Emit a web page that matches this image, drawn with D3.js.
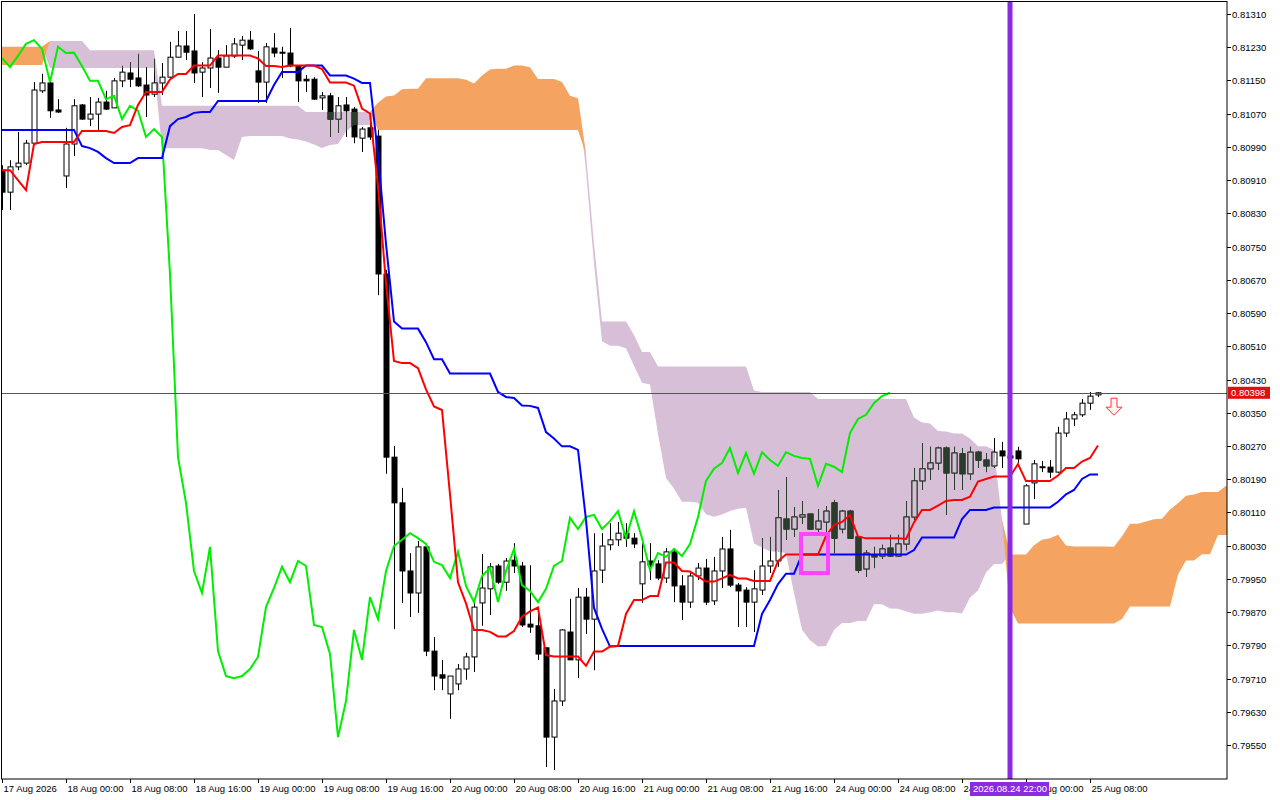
<!DOCTYPE html>
<html>
<head>
  <meta charset="utf-8">
  <title>Ichimoku chart</title>
  <style>
    body { margin: 0; background: #fff; }
    text { font-family: "Liberation Sans", "DejaVu Sans", sans-serif; }
  </style>
</head>
<body>
<script src="https://cdnjs.cloudflare.com/ajax/libs/d3/7.8.5/d3.min.js"></script>
<script>
// H1 bars, 17 Aug 2026 16:00 .. 25 Aug 2026 09:00 (prices in points, 1e-5)
var opens = [80934,80881,80942,80951,80999,81125,81144,81079,80920,80997,
  81091,81057,81069,81098,81084,81149,81168,81156,81139,81117,
  81144,81158,81206,81233,81221,81170,81180,81204,81182,81209,
  81235,81247,81173,81146,81228,81218,81216,81185,81153,81153,
  81108,81113,81057,81091,81081,81011,81036,81016,80684,80243,
  80133,79969,79916,80027,79776,79719,79673,79697,79733,79762,
  79892,79926,79981,79942,79995,79981,79841,79837,79784,79569,
  79656,79822,79755,79906,79853,79971,80032,80044,80060,80048,
  79938,79993,79986,79952,80015,79933,79894,79957,79976,79897,
  79969,80022,79935,79923,79894,79923,79981,79993,80094,80070,
  80099,80106,80070,80087,80133,80070,80113,80051,79974,80007,
  80005,80024,80005,80034,80099,80186,80215,80229,80265,80205,
  80251,80203,80255,80236,80222,80258,80246,80258,80082,80181,
  80219,80219,80207,80301,80335,80345,80373,80393];
var highs = [80946,80958,81026,81007,81146,81166,81151,81105,81036,81105,
  81093,81110,81108,81125,81156,81185,81194,81214,81182,81202,
  81192,81243,81269,81269,81310,81194,81274,81223,81235,81252,
  81257,81269,81221,81240,81264,81231,81276,81187,81163,81158,
  81122,81120,81110,81110,81086,81038,81048,81031,80694,80270,
  80169,80012,80041,80032,79810,79755,79716,79745,79772,79897,
  80010,79988,79986,80000,80036,79991,79983,79875,79784,79685,
  79829,79902,79928,79928,80060,80060,80084,80087,80084,80060,
  80036,80036,79995,80024,80024,79959,79964,79988,79998,80003,
  80051,80068,79940,79930,79971,80048,80051,80164,80195,80123,
  80137,80106,80118,80125,80140,80116,80116,80051,80019,80027,
  80032,80056,80056,80137,80217,80277,80268,80268,80268,80268,
  80265,80268,80258,80253,80289,80280,80260,80268,80178,80236,
  80234,80236,80316,80352,80352,80383,80400,80400];
var lows = [80838,80838,80934,80946,80995,81120,81060,81072,80891,80968,
  81055,81040,81031,81079,81084,81134,81134,81134,81062,81110,
  81115,81156,81206,81199,81144,81110,81132,81120,81182,81204,
  81199,81223,81096,81096,81206,81156,81182,81098,81122,81103,
  81079,81014,81024,81014,80999,80978,81007,80633,80203,79829,
  79892,79858,79868,79764,79682,79682,79613,79682,79707,79726,
  79837,79863,79938,79921,79964,79834,79820,79755,79497,79490,
  79644,79755,79711,79817,79730,79940,80019,80029,80027,80024,
  79892,79947,79947,79940,79894,79851,79880,79947,79887,79887,
  79928,79930,79834,79834,79822,79911,79964,79979,80044,80051,
  80082,80068,80060,80060,80012,80060,80048,79964,79955,79976,
  79998,80003,80003,80019,80092,80164,80188,80212,80104,80164,
  80164,80188,80217,80207,80217,80217,80231,80229,80082,80142,
  80207,80193,80205,80292,80318,80340,80357,80388];
var closes = [80881,80942,80951,80999,81127,81144,81077,81074,80997,81089,
  81057,81069,81098,81081,81149,81170,81153,81137,81115,81144,
  81158,81206,81233,81218,81168,81180,81204,81182,81209,81238,
  81247,81226,81146,81231,81216,81217,81185,81149,81149,81105,
  81113,81057,81089,81077,81014,81033,81014,80684,80243,80133,
  79969,79916,80027,79776,79716,79711,79716,79733,79762,79882,
  79928,79979,79942,79993,79981,79839,79834,79769,79569,79656,
  79827,79755,79906,79853,79969,80029,80044,80060,80048,80034,
  79991,79983,79952,80015,79933,79894,79957,79976,79894,79969,
  80022,79935,79921,79894,79926,79981,79993,80097,80070,80099,
  80104,80070,80089,80113,80048,80113,80048,79971,80012,80003,
  80022,80005,80034,80099,80186,80215,80229,80265,80205,80253,
  80203,80255,80236,80222,80255,80246,80241,80239,80174,80227,
  80220,80207,80301,80335,80345,80373,80390,80398];

// indicator values at the left edge (their windows start before the first bar)
var tenkanEarly = [80934,80934,80910,80886,80997,81002,81002,81002];
var kijunEarly = [81031,81031,81031,81031,81031,81031,81031,81031,81031,81031,
  80992,80987,80978,80963,80951,80951,80951,80963,80963,80963,
  80963,81040,81057,81062,81072,81074];
var spanAEarly = [81231,81231,81231,81231,81231,81231,
  81180,81180,81180,81180,81180,81180,81180,81180,81180,81180,81180,81180,81180,81180,
  80987,80987,80987,80987,80987,80987];
var spanBEarly = [81187,81187,81187,81187,81187,81187,
  81245,81245,81245,81245,81245,
  81223,81223,81223,81223,81223,81223,81223,81223,81223,
  81089,81089,81089,81089,81089,81089,81089,81089,81089,81089,81089,81089,81089,81089,81089,81089,81089,81089,
  81074,81074,81074,81074,81074,81074,81074,81074,81074,
  81031,81031,81031,81031,81031,81031,81031,81031,81031,81031,81031,81031,81031,
  81031,81031,81031,81031,81031,81031,81031,81031,81031,81031,81031,81031,81031];

var priceTicks = [0.81310,0.81230,0.81150,0.81070,0.80990,0.80910,0.80830,0.80750,
  0.80670,0.80590,0.80510,0.80430,0.80350,0.80270,0.80190,0.80110,0.80030,
  0.79950,0.79870,0.79790,0.79710,0.79630,0.79550];
var timeTickBars = [0,8,16,24,32,40,48,56,64,72,80,88,96,104,112,120,128,136];
var timeTickLabels = ["17 Aug 2026","18 Aug 00:00","18 Aug 08:00","18 Aug 16:00",
  "19 Aug 00:00","19 Aug 08:00","19 Aug 16:00","20 Aug 00:00","20 Aug 08:00",
  "20 Aug 16:00","21 Aug 00:00","21 Aug 08:00","21 Aug 16:00","24 Aug 00:00",
  "24 Aug 08:00","24 Aug 16:00","25 Aug 00:00","25 Aug 08:00"];
var markerBar = 126, markerLabel = "2026.08.24 22:00";
var boxMark = {from: 100, to: 103, top: 0.80058, bottom: 0.79964};
var arrowMark = {bar: 139, price: 0.80385};

var W = 1280, H = 800, plotR = 1227, plotB = 779;
var P = function(v) { return v / 1e5; };
var bars = opens.map(function(o, i) {
  return {i: i, o: P(o), h: P(highs[i]), l: P(lows[i]), c: P(closes[i])};
});
var n = bars.length;

// ichimoku 9/26/52
function mid(i, len) {
  var hi = -1, lo = 9;
  for (var k = Math.max(0, i - len + 1); k <= i; k++) {
    hi = Math.max(hi, bars[k].h); lo = Math.min(lo, bars[k].l);
  }
  return (hi + lo) / 2;
}
var tenkan = bars.map(function(b, i) { return i < tenkanEarly.length ? P(tenkanEarly[i]) : mid(i, 9); });
var kijun = bars.map(function(b, i) { return i < kijunEarly.length ? P(kijunEarly[i]) : mid(i, 26); });
var cloud = [];
for (var j = 0; j < n + 26; j++) {
  var a = j < 26 ? P(spanAEarly[j]) : (tenkan[j - 26] + kijun[j - 26]) / 2;
  var b = j < spanBEarly.length ? P(spanBEarly[j]) : mid(j - 26, 52);
  cloud.push({i: j, a: a, b: b});
}
var chikou = bars.slice(26).map(function(b, k) { return {i: k, v: b.c}; });

var x = d3.scaleLinear().domain([0, 1]).range([2, 10]);
var y = d3.scaleLinear().domain([0.81310, 0.79550]).range([14, 745]);

var svg = d3.select("body").append("svg").attr("width", W).attr("height", H);
svg.append("rect").attr("width", W).attr("height", H).attr("fill", "#fff");
svg.append("clipPath").attr("id", "plot").append("rect")
  .attr("x", 1).attr("y", 1).attr("width", plotR - 1).attr("height", plotB - 1);
var g = svg.append("g").attr("clip-path", "url(#plot)");

// cloud: sandy brown where A above B, thistle where B above A
var orangeArea = d3.area().x(function(d) { return x(d.i); })
  .y0(function(d) { return y(d.b); }).y1(function(d) { return y(Math.max(d.a, d.b)); });
var purpleArea = d3.area().x(function(d) { return x(d.i); })
  .y0(function(d) { return y(d.a); }).y1(function(d) { return y(Math.max(d.a, d.b)); });
g.append("path").attr("d", purpleArea(cloud)).attr("fill", "#d8bfd8");
g.append("path").attr("d", orangeArea(cloud)).attr("fill", "#f4a460");
var cc = svg.append("clipPath").attr("id", "cloudclip");
cc.append("path").attr("d", purpleArea(cloud));
cc.append("path").attr("d", orangeArea(cloud));

// candles, then again dark-tinted inside the cloud
function drawCandles(layer, line, bullFill, bearFill) {
  var c = layer.selectAll("g.c").data(bars).enter().append("g");
  c.append("line")
    .attr("x1", function(d) { return x(d.i) + 0.5; }).attr("x2", function(d) { return x(d.i) + 0.5; })
    .attr("y1", function(d) { return y(d.h); }).attr("y2", function(d) { return y(d.l); })
    .attr("stroke", line).attr("stroke-width", 1);
  c.append("rect")
    .attr("x", function(d) { return x(d.i) - 2; })
    .attr("y", function(d) { return y(Math.max(d.o, d.c)); })
    .attr("width", 5)
    .attr("height", function(d) { return Math.max(1, Math.abs(y(d.o) - y(d.c))); })
    .attr("fill", function(d) { return d.c >= d.o ? bullFill : bearFill; })
    .attr("stroke", line).attr("stroke-width", 1);
}
drawCandles(g.append("g"), "#000", "#fff", "#000");
drawCandles(g.append("g").attr("clip-path", "url(#cloudclip)"), "#2b3d2b", "#d8bfd8", "#2b3d2b");

var line = d3.line().x(function(d) { return x(d.i); }).y(function(d) { return y(d.v); });
g.append("path").attr("d", line(chikou)).attr("fill", "none").attr("stroke", "#00ee00").attr("stroke-width", 2);
g.append("path").attr("d", line(kijun.map(function(v, i) { return {i: i, v: v}; })))
  .attr("fill", "none").attr("stroke", "#0000ff").attr("stroke-width", 2);
g.append("path").attr("d", line(tenkan.map(function(v, i) { return {i: i, v: v}; })))
  .attr("fill", "none").attr("stroke", "#ff0000").attr("stroke-width", 2);

// highlight box and down arrow
g.append("rect").attr("x", x(boxMark.from) - 1).attr("y", y(boxMark.top))
  .attr("width", x(boxMark.to) - x(boxMark.from) + 3).attr("height", y(boxMark.bottom) - y(boxMark.top))
  .attr("fill", "none").attr("stroke", "#ff44ff").attr("stroke-width", 4);
var ax = x(arrowMark.bar), ay = y(arrowMark.price);
g.append("path")
  .attr("d", "M" + (ax - 3) + "," + ay + "h6v9h5l-8,8l-8,-8h5z")
  .attr("fill", "#fff4f4").attr("stroke", "#ff3030").attr("stroke-width", 1);

// current price line
var last = bars[n - 1].c;
g.append("line").attr("x1", 0).attr("x2", plotR).attr("y1", Math.round(y(last)) + 0.5).attr("y2", Math.round(y(last)) + 0.5)
  .attr("stroke", "#555").attr("stroke-width", 1);

// vertical marker
g.append("line").attr("x1", x(markerBar)).attr("x2", x(markerBar)).attr("y1", 0).attr("y2", plotB)
  .attr("stroke", "#8a2be2").attr("stroke-width", 5);

// frame
svg.append("rect").attr("x", 1.5).attr("y", 1.5).attr("width", plotR - 1.5).attr("height", plotB - 1.5)
  .attr("fill", "none").attr("stroke", "#000");

// price axis
var pa = svg.append("g");
priceTicks.forEach(function(p) {
  var yy = Math.round(y(p)) + 0.5;
  pa.append("line").attr("x1", plotR).attr("x2", plotR + 4).attr("y1", yy).attr("y2", yy).attr("stroke", "#000");
  pa.append("text").attr("x", plotR + 5).attr("y", yy + 3.5).attr("font-size", 9.5).text(p.toFixed(5));
});
pa.append("rect").attr("x", plotR + 1).attr("y", y(last) - 6).attr("width", 42).attr("height", 12).attr("fill", "#e01010");
pa.append("text").attr("x", plotR + 4).attr("y", y(last) + 3.5).attr("font-size", 9.5).attr("fill", "#fff").text(last.toFixed(5));

// time axis
var ta = svg.append("g");
timeTickBars.forEach(function(bi, k) {
  var xx = Math.round(x(bi)) + 0.5;
  ta.append("line").attr("x1", xx).attr("x2", xx).attr("y1", plotB).attr("y2", plotB + 4).attr("stroke", "#000");
  ta.append("text").attr("x", xx + 1).attr("y", plotB + 13).attr("font-size", 9.5).text(timeTickLabels[k]);
});
var mx = x(markerBar);
ta.append("rect").attr("x", mx - 40).attr("y", plotB + 3).attr("width", 79).attr("height", 14).attr("fill", "#8a2be2");
ta.append("text").attr("x", mx).attr("y", plotB + 13).attr("font-size", 9.5).attr("fill", "#fff")
  .attr("text-anchor", "middle").text(markerLabel);
</script>
</body>
</html>
